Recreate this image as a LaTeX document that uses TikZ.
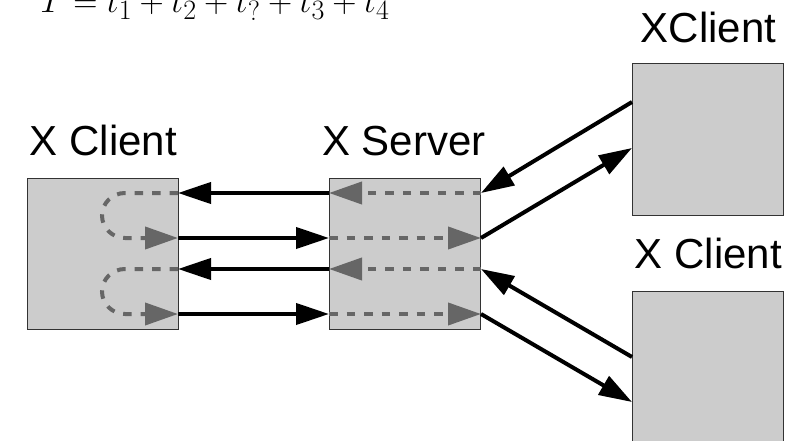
\documentclass[tikz,border=0pt]{standalone}
\usepackage{fontspec}
\setmainfont{Liberation Sans}
\usetikzlibrary{arrows.meta}
\definecolor{boxfill}{HTML}{CCCCCC}
\definecolor{boxline}{HTML}{333333}
\definecolor{dashgray}{HTML}{666666}
\tikzset{
  box/.style={draw=boxline, line width=1pt, fill=boxfill, minimum width=151pt, minimum height=151pt, inner sep=0pt, outer sep=0pt},
  lbl/.style={font=\fontsize{42}{48}\selectfont, anchor=base, inner sep=0pt},
  msg/.style={draw=black, line width=4pt, -{Triangle[length=33pt,width=21pt]}},
  inner/.style={draw=dashgray, line width=4pt, dash pattern=on 8.5pt off 9pt, -{Triangle[length=33pt,width=22pt,fill=dashgray]}}
}
\begin{document}
\begin{tikzpicture}[x=1pt,y=-1pt]
\useasboundingbox (0,0) rectangle (803,441);
\clip (0,0) rectangle (803,441);
% formula (clipped at top, as in the reference)
\node[anchor=base west, inner sep=0pt] (formula) at (40,13) {\scalebox{1.35}{\fontsize{24.88}{30}\selectfont $T=t_1+t_2+t_?+t_3+t_4$}};
% boxes
\node[box] (cl) at (102.5,253.5) {};
\node[box] (srv) at (405,253.5) {};
\node[box] (rt) at (707.5,139.5) {};
\node[box] (rb) at (707.5,366.5) {};
% labels
\node[lbl] (lcl) at (103.5,156) {X Client};
\node[lbl] (lsrv) at (404,156) {X Server};
\node[lbl] (lrt) at (708.5,43) {XClient};
\node[lbl] (lrb) at (708.5,268) {X Client};
% ports
\coordinate (c1) at (178,193);
\coordinate (c2) at (178,238);
\coordinate (c3) at (178,269);
\coordinate (c4) at (178,314);
\coordinate (s1w) at (329,193);
\coordinate (s2w) at (329,238);
\coordinate (s3w) at (329,269);
\coordinate (s4w) at (329,314);
\coordinate (s1e) at (481,193);
\coordinate (s2e) at (481,238);
\coordinate (s3e) at (481,269);
\coordinate (s4e) at (481,314);
\coordinate (rt1) at (632,102);
\coordinate (rt2) at (632,148);
\coordinate (rb1) at (632,357);
\coordinate (rb2) at (632,402);
% dashed paths inside server
\draw[inner] (s1e) -- (s1w);
\draw[inner] (s2w) -- (s2e);
\draw[inner] (s3e) -- (s3w);
\draw[inner] (s4w) -- (s4e);
% dashed loops inside client
\draw[inner] (c1) -- (125,193) arc[start angle=270, end angle=90, x radius=23, y radius=22.5] -- (c2);
\draw[inner] (c3) -- (125,269) arc[start angle=270, end angle=90, x radius=23, y radius=22.5] -- (c4);
% black messages
\draw[msg] (s1w) -- (c1);
\draw[msg] (c2) -- (s2w);
\draw[msg] (s3w) -- (c3);
\draw[msg] (c4) -- (s4w);
\draw[msg] (rt1) -- (s1e);
\draw[msg] (s2e) -- (rt2);
\draw[msg] (rb1) -- (s3e);
\draw[msg] (s4e) -- (rb2);
\end{tikzpicture}
\end{document}
